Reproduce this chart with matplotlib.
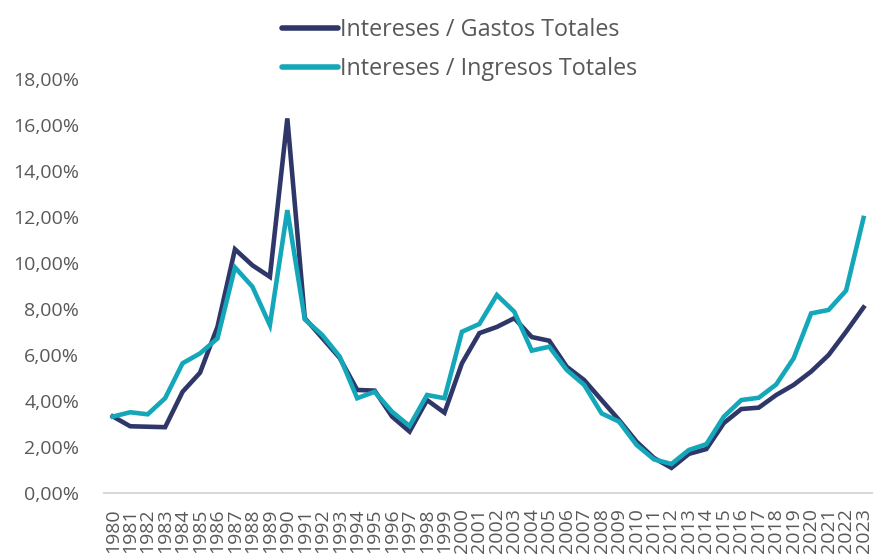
import matplotlib
matplotlib.use("Agg")
import matplotlib.pyplot as plt
from matplotlib.ticker import FuncFormatter

years = list(range(1980, 2024))
gastos = [3.33, 2.90, 2.88, 2.86, 4.40, 5.23, 7.23, 10.60, 9.90, 9.40, 16.29, 7.60,
          6.74, 5.87, 4.48, 4.45, 3.32, 2.67, 4.04, 3.49, 5.64, 6.95, 7.22, 7.60,
          6.78, 6.62, 5.49, 4.91, 4.04, 3.17, 2.23, 1.52, 1.09, 1.70, 1.91, 3.04,
          3.65, 3.71, 4.26, 4.70, 5.28, 6.00, 7.01, 8.07]
ingresos = [3.32, 3.51, 3.42, 4.12, 5.64, 6.07, 6.72, 9.81, 8.97, 7.30, 12.30, 7.55,
            6.87, 5.93, 4.12, 4.40, 3.53, 2.91, 4.26, 4.12, 7.01, 7.35, 8.61, 7.88,
            6.19, 6.36, 5.35, 4.70, 3.46, 3.10, 2.09, 1.46, 1.26, 1.87, 2.12, 3.32,
            4.04, 4.14, 4.72, 5.86, 7.81, 7.96, 8.80, 11.96]
labels = ["Intereses / Gastos Totales", "Intereses / Ingresos Totales"]
yticks = [0, 2, 4, 6, 8, 10, 12, 14, 16, 18]

plt.rcParams['font.family'] = ['Open Sans', 'DejaVu Sans']
gray = '#595959'

fig = plt.figure(figsize=(8.74, 5.57), dpi=100)
ax = fig.add_axes([0.119, 0.115, 0.879, 0.743])

x = list(range(len(years)))
ax.plot(x, gastos, color='#2F3768', lw=3.3, solid_joinstyle='miter', label=labels[0])
ax.plot(x, ingresos, color='#14A7B9', lw=3.3, solid_joinstyle='miter', label=labels[1])

ax.set_xlim(-0.5, len(years) - 0.5)
ax.set_ylim(0, 18)
ax.set_yticks(yticks)
ax.yaxis.set_major_formatter(FuncFormatter(lambda v, p: f"{v:.2f}%".replace('.', ',')))
ax.set_xticks(x)
ax.set_xticklabels([str(y) for y in years], rotation=90, va='top')

for s in ['top', 'right', 'left']:
    ax.spines[s].set_visible(False)
ax.spines['bottom'].set_color('#D9D9D9')
ax.spines['bottom'].set_linewidth(1.5)
ax.tick_params(axis='both', length=0, colors=gray)
ax.tick_params(axis='y', labelsize=14, pad=18)
ax.tick_params(axis='x', labelsize=14, pad=11)

leg = fig.legend(loc='upper center', bbox_to_anchor=(0.526, 1.005), ncol=1, frameon=False,
                 fontsize=16.8, handlelength=2.4, handletextpad=0.1, labelspacing=0.62,
                 labelcolor=gray)
for h in leg.legend_handles:
    h.set_solid_capstyle('round')
    h.set_linewidth(4)

fig.savefig('out.png', dpi=100)
